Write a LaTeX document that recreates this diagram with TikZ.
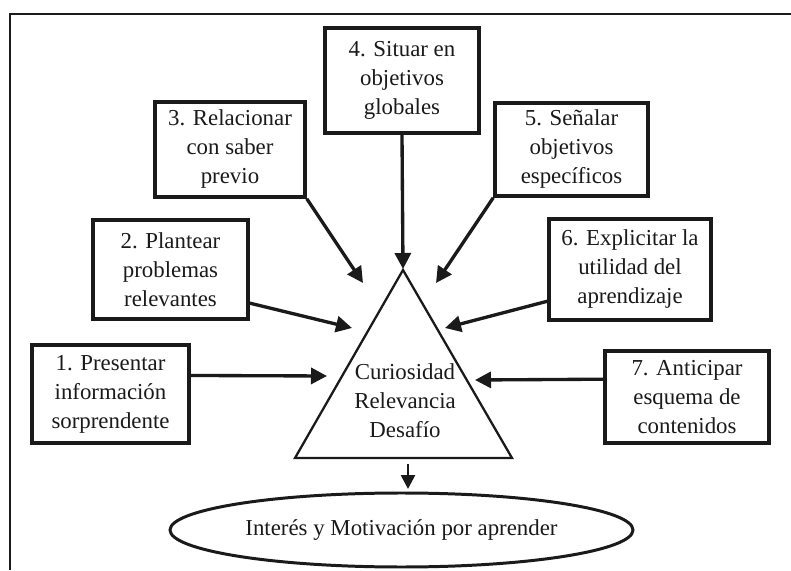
\documentclass[tikz,border=0pt]{standalone}
\usepackage{fontspec}
\setmainfont{Liberation Serif}
\usepackage{tikz}
\usetikzlibrary{shapes.geometric,arrows.meta,positioning,calc}
\definecolor{ink}{HTML}{1A1A1A}

\begin{document}
\begin{tikzpicture}[
    font=\fontsize{13}{16.5}\selectfont,
    stepbox/.style={rectangle, draw=ink, line width=2pt, fill=white,
                    align=center, text=ink, inner sep=2pt},
    arrow/.style={-{Triangle[length=3.2mm,width=3.2mm]}, line width=1.9pt, draw=ink},
    tri/.style={draw=ink, line width=1.3pt},
    goal/.style={ellipse, draw=ink, line width=1.7pt, text=ink,
                 minimum width=9.26cm, minimum height=1.48cm, inner sep=0pt}
]
\useasboundingbox (0,0) rectangle (15.82,11.4);

% outer frame (only left and top edges fall inside the picture)
\draw[draw=ink, line width=0.7pt] (0.2,0) -- (0.2,11.12) -- (15.82,11.12);

% the seven strategies
\node[stepbox, minimum width=3.14cm, minimum height=1.96cm] (b1) at (2.21,3.52)
    {1. Presentar\\información\\sorprendente};
\node[stepbox, minimum width=3.10cm, minimum height=1.98cm] (b2) at (3.41,6.01)
    {2. Plantear\\problemas\\relevantes};
\node[stepbox, minimum width=3.00cm, minimum height=1.90cm] (b3) at (4.60,8.41)
    {3. Relacionar\\con saber\\previo};
\node[stepbox, minimum width=3.08cm, minimum height=2.10cm] (b4) at (8.04,9.79)
    {4. Situar en\\objetivos\\globales};
\node[stepbox, minimum width=3.06cm, minimum height=1.86cm] (b5) at (11.43,8.41)
    {5. Señalar\\objetivos\\específicos};
\node[stepbox, minimum width=3.24cm, minimum height=2.02cm] (b6) at (12.60,6.01)
    {6. Explicitar la\\utilidad del\\aprendizaje};
\node[stepbox, minimum width=3.28cm, minimum height=1.84cm] (b7) at (13.74,3.46)
    {7. Anticipar\\esquema de\\contenidos};

% central triangle
\coordinate (apex) at (8.06,6.00);
\coordinate (bl) at (5.90,2.24);
\coordinate (br) at (10.24,2.24);
\draw[tri] (apex) -- (bl) -- (br) -- cycle;
\node[text=ink, align=center] (core) at (8.10,3.38)
    {Curiosidad\\Relevancia\\Desafío};

% outcome
\node[goal] (goal) at (8.03,0.80) {Interés y Motivación por aprender};

% arrow tips near the triangle
\coordinate (t1) at (6.54,3.88);
\coordinate (t2) at (7.04,4.84);
\coordinate (t3) at (7.26,5.74);
\coordinate (t4) at (8.06,6.02);
\coordinate (t5) at (8.72,5.74);
\coordinate (t6) at (8.90,4.84);
\coordinate (t7) at (9.50,3.80);
\coordinate (s8) at (8.16,2.12);
\coordinate (t8) at (8.16,1.62);

% arrows: strategies to triangle
\foreach \src/\dst in {b1.13/t1, b2.-23/t2, b3.south east/t3, b4.south/t4,
                       b5.south west/t5, b6.201/t6, b7.168/t7}
    \draw[arrow] (\src) -- (\dst);
\draw[arrow, line width=1.5pt, -{Triangle[length=2.8mm,width=2.8mm]}] (s8) -- (t8);

\end{tikzpicture}
\end{document}
